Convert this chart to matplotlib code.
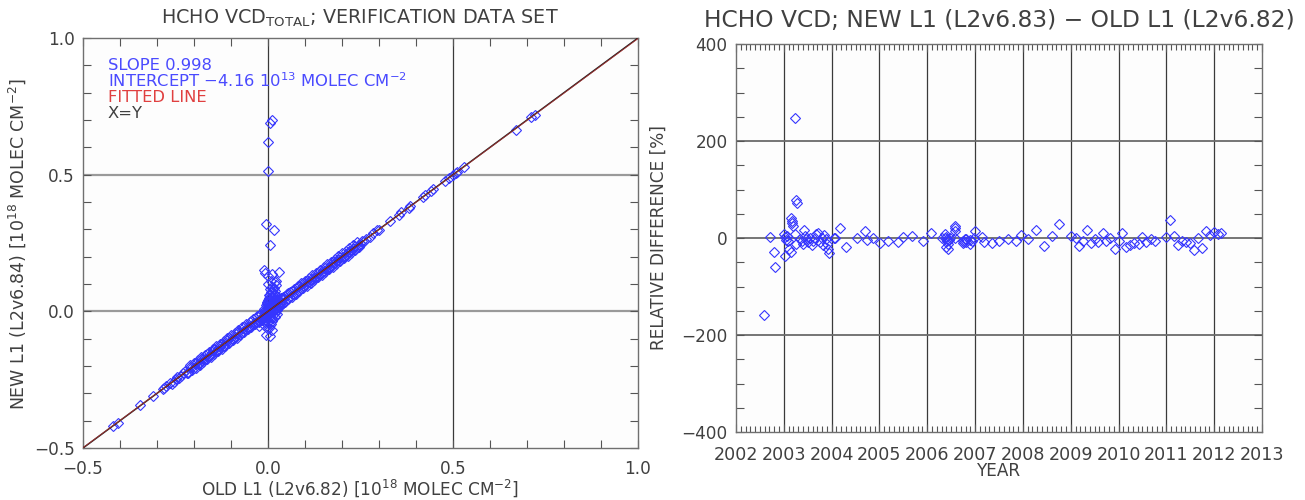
import matplotlib
matplotlib.use("Agg")
import matplotlib.pyplot as plt
from matplotlib.ticker import MultipleLocator, FuncFormatter

plt.rcParams['font.family'] = ['DejaVu Sans']
plt.rcParams['mathtext.fontset'] = 'dejavusans'
plt.rcParams['axes.unicode_minus'] = True

# ---------------- Left panel data (OLD L1 vs NEW L1, 1e18 molec/cm2) ----------------
sparse_x = [-0.420, -0.405, -0.345, -0.310, -0.285, -0.280, -0.275, 0.275, 0.285, 0.295, 0.300,
            0.330, 0.355, 0.360, 0.380, 0.385, 0.420, 0.425, 0.440, 0.445, 0.478, 0.490, 0.500,
            0.508, 0.512, 0.530, 0.670, 0.712, 0.722]
sparse_y = [-0.421, -0.407, -0.344, -0.311, -0.284, -0.282, -0.274, 0.272, 0.286, 0.296, 0.298,
            0.329, 0.354, 0.362, 0.378, 0.386, 0.418, 0.424, 0.440, 0.446, 0.476, 0.488, 0.498,
            0.507, 0.511, 0.528, 0.662, 0.710, 0.718]

band1_x = [-0.265, -0.255, -0.245, -0.235, -0.225, -0.215, -0.205, -0.195, -0.185, -0.175, -0.165,
           -0.155, -0.145, -0.135, -0.125, -0.115, -0.105, -0.095, -0.085, -0.075, -0.065, -0.055,
           -0.045, -0.035, -0.025, -0.015, -0.005, 0.005, 0.015, 0.025, 0.035, 0.045, 0.055, 0.065,
           0.075, 0.085, 0.095, 0.105, 0.115, 0.125, 0.135, 0.145, 0.155, 0.165, 0.175, 0.185,
           0.195, 0.205, 0.215, 0.225, 0.235, 0.245, 0.255, 0.265]
band1_y = [-0.261, -0.258, -0.239, -0.237, -0.220, -0.221, -0.202, -0.188, -0.189, -0.173, -0.157,
           -0.160, -0.139, -0.142, -0.121, -0.118, -0.098, -0.101, -0.080, -0.083, -0.059, -0.059,
           -0.036, -0.042, -0.015, -0.027, 0.010, 0.025, 0.033, 0.041, 0.049, 0.057, 0.066, 0.075,
           0.084, 0.093, 0.102, 0.111, 0.120, 0.121, 0.141, 0.142, 0.160, 0.161, 0.181, 0.183,
           0.199, 0.200, 0.218, 0.221, 0.240, 0.242, 0.259, 0.263]

band2_x = [-0.26, -0.25, -0.24, -0.23, -0.22, -0.21, -0.20, -0.19, -0.18, -0.17, -0.16, -0.15,
           -0.14, -0.13, -0.12, -0.11, -0.10, -0.09, -0.08, -0.07, -0.06, -0.05, -0.04, -0.03,
           -0.02, -0.01, 0.00, 0.01, 0.02, 0.03, 0.04, 0.05, 0.06, 0.07, 0.08, 0.09, 0.10, 0.11,
           0.12, 0.13, 0.14, 0.15, 0.16, 0.17, 0.18, 0.19, 0.20, 0.21, 0.22, 0.23, 0.24, 0.25, 0.26]
band2_y = [-0.265, -0.246, -0.244, -0.226, -0.224, -0.205, -0.206, -0.193, -0.176, -0.174, -0.164,
           -0.146, -0.145, -0.126, -0.125, -0.106, -0.105, -0.094, -0.076, -0.075, -0.066, -0.054,
           -0.047, -0.038, -0.030, -0.018, -0.006, 0.000, 0.010, 0.022, 0.032, 0.044, 0.054, 0.064,
           0.074, 0.085, 0.095, 0.106, 0.116, 0.126, 0.136, 0.146, 0.156, 0.167, 0.176, 0.187,
           0.196, 0.207, 0.216, 0.227, 0.236, 0.247, 0.256]

band3_x = [-0.215, -0.205, -0.195, -0.185, -0.175, -0.165, -0.155, -0.145, -0.135, -0.125, -0.115,
           -0.105, -0.095, -0.085, -0.075, -0.065, -0.055, -0.045, -0.035, -0.025, -0.015, -0.005,
           0.005, 0.015, 0.025, 0.035, 0.045, 0.055, 0.065, 0.075, 0.085, 0.095, 0.105, 0.115,
           0.125, 0.135, 0.145, 0.155, 0.165, 0.175, 0.185, 0.195, 0.205, 0.215, 0.225, 0.235, 0.245]
band3_y = [-0.226, -0.216, -0.206, -0.196, -0.186, -0.176, -0.166, -0.156, -0.146, -0.136, -0.126,
           -0.116, -0.106, -0.096, -0.086, -0.076, -0.066, -0.056, -0.046, -0.036, -0.026, -0.016,
           -0.006, 0.004, 0.014, 0.024, 0.034, 0.044, 0.054, 0.064, 0.074, 0.084, 0.094, 0.104,
           0.114, 0.124, 0.134, 0.144, 0.154, 0.164, 0.174, 0.184, 0.194, 0.204, 0.214, 0.224, 0.234]

band4_x = [-0.21, -0.20, -0.19, -0.18, -0.17, -0.16, -0.15, -0.14, -0.13, -0.12, -0.11, -0.10,
           -0.09, -0.08, -0.07, -0.06, -0.05, -0.04, -0.03, -0.02, -0.01, 0.00, 0.01, 0.02, 0.03,
           0.04, 0.05, 0.06, 0.07, 0.08, 0.09, 0.10, 0.11, 0.12, 0.13, 0.14, 0.15, 0.16, 0.17,
           0.18, 0.19, 0.20, 0.21, 0.22, 0.23, 0.24]
band4_y = [-0.198, -0.188, -0.178, -0.168, -0.158, -0.148, -0.138, -0.128, -0.118, -0.108, -0.098,
           -0.088, -0.078, -0.068, -0.058, -0.048, -0.038, -0.028, -0.018, -0.008, 0.002, 0.012,
           0.022, 0.032, 0.042, 0.052, 0.062, 0.072, 0.082, 0.092, 0.102, 0.112, 0.122, 0.132,
           0.142, 0.152, 0.162, 0.172, 0.182, 0.192, 0.202, 0.212, 0.222, 0.232, 0.242, 0.252]

blob_x = [0.000, 0.002, -0.003, 0.005, 0.008, 0.010, 0.012, 0.015, 0.018, 0.020, 0.022, 0.025,
          0.003, 0.006, -0.005, -0.008, -0.010, -0.012, -0.015, 0.000, 0.004, 0.010, 0.015, 0.020,
          0.028, 0.030, 0.035, 0.040, -0.002, 0.007, 0.012, 0.018, 0.025, 0.001, -0.004, 0.009,
          0.016, 0.022, -0.018, -0.025,
          -0.010, -0.006, -0.002, 0.002, 0.006, 0.010, 0.014, 0.018, 0.022, 0.026,
          -0.008, -0.004, 0.000, 0.004, 0.008, 0.012, 0.016, 0.020, 0.024, 0.028, 0.032,
          -0.012, -0.006, 0.000, 0.006, 0.012, 0.018, 0.024, 0.030,
          0.036, -0.020, -0.014, -0.008, -0.002, 0.004, 0.010, 0.016, 0.022]
blob_y = [0.040, 0.060, 0.020, 0.080, 0.070, 0.050, 0.090, 0.065, 0.045, 0.075, 0.030, 0.055,
          -0.020, -0.030, -0.010, -0.040, -0.025, -0.050, -0.030, 0.000, 0.010, 0.000, 0.020, 0.010,
          0.040, 0.020, 0.050, 0.045, -0.060, -0.045, -0.035, -0.020, -0.010, 0.100, 0.030, 0.110,
          0.085, 0.095, -0.010, -0.040,
          0.010, 0.025, 0.035, 0.050, 0.060, 0.070, 0.080, 0.060, 0.050, 0.040,
          -0.005, 0.005, 0.015, 0.030, 0.040, 0.030, 0.045, 0.030, 0.025, 0.035, 0.030,
          -0.020, -0.015, -0.040, -0.050, -0.025, -0.005, 0.005, 0.015,
          0.025, -0.025, -0.020, -0.030, -0.015, -0.060, -0.070, 0.000, 0.110]

outlier_x = [0.005, 0.012, 0.000, 0.000, -0.005, 0.015, 0.005, -0.010, -0.008, 0.000, 0.010,
             0.030, 0.020, -0.005, 0.005, -0.025]
outlier_y = [0.690, 0.700, 0.618, 0.512, 0.320, 0.298, 0.243, 0.150, 0.140, 0.130, 0.135,
             0.145, 0.108, -0.085, -0.092, -0.055]

fit_slope = 0.998
fit_intercept = -4.16e-5      # 1e18 units (= -4.16e13 molec/cm2)
line_x = [-0.5, 1.0]

# ---------------- Right panel data (relative difference in %) ----------------
diff_year = [2002.58, 2002.71, 2002.785, 2002.82,
             2003.01, 2003.02, 2003.03, 2003.04, 2003.07, 2003.09, 2003.11, 2003.15, 2003.16, 2003.17,
             2003.18, 2003.19, 2003.23, 2003.23, 2003.26, 2003.27, 2003.26, 2003.33, 2003.37, 2003.40,
             2003.42, 2003.44, 2003.47, 2003.51, 2003.54, 2003.58, 2003.61, 2003.65, 2003.68, 2003.72,
             2003.75, 2003.79, 2003.82, 2003.85, 2003.89, 2003.90, 2003.92, 2003.94, 2004.05, 2004.08,
             2004.17, 2004.31, 2004.53, 2004.69, 2004.73, 2004.87, 2005.02, 2005.17, 2005.38, 2005.49,
             2005.68, 2005.92, 2006.08, 2006.31,
             2006.37, 2006.38, 2006.40, 2006.41, 2006.42, 2006.43, 2006.39, 2006.44, 2006.46, 2006.47,
             2006.58, 2006.58, 2006.59, 2006.59, 2006.74, 2006.75, 2006.77, 2006.78, 2006.80, 2006.81,
             2006.89, 2006.90, 2006.93, 2006.98, 2007.00,
             2007.15, 2007.19, 2007.35, 2007.51, 2007.68, 2007.85, 2007.95, 2008.10, 2008.27, 2008.44,
             2008.60, 2008.76, 2009.00, 2009.10, 2009.17, 2009.25, 2009.33, 2009.43, 2009.50, 2009.58,
             2009.67, 2009.74, 2009.83, 2009.92, 2010.00, 2010.08, 2010.16, 2010.24, 2010.33, 2010.42,
             2010.49, 2010.58, 2010.67, 2010.76, 2010.99, 2011.08, 2011.17, 2011.24, 2011.33, 2011.42,
             2011.50, 2011.58, 2011.66, 2011.74, 2011.82, 2011.91, 2011.99, 2012.08, 2012.15]
diff_pct = [-158, 3, -28, -59,
            8, 3, -38, -4, 5, -5.5, -23, -28, 41, 36,
            30, 25, 247, 8, 78, 73, -12, -2, -7, -12,
            16, 5, -2, -9, 1, -14, -5.5, 0, 8, 10,
            -9, 1, -14, 7, -2, -12, -23, -30, 0, -1,
            21, -19, 0, 15, -4, 0, -10, -5.5, -9, 3,
            4, -5.5, 10, 0,
            0, 8, 3, -2, -7, -12, -19, -23, -4, 1,
            25, 21, 15, 0, -5.5, -11, -8, -2, -9, -3,
            -4, -12, -7, 1, 14,
            3, -9, -11, -6, -3, -5.5, 6, -3, 16.5, -16.5,
            4, 29, 5, 0, -16.5, -5.5, 16.5, -10, -3, -9,
            10, -6, -1, -22, -5.5, 11, -18, -14, -11, -12,
            2, -8, -3, -6, 3, 38, 5, -14, -5.5, -7.5,
            -11, -25, 0, -21, 15, 6, 13, 8, 10]

year_ticks = [2002, 2003, 2004, 2005, 2006, 2007, 2008, 2009, 2010, 2011, 2012, 2013]
year_grid = [2003, 2004, 2005, 2006, 2007, 2008, 2009, 2010, 2011, 2012]
pct_grid = [-200, 0, 200]
vcd_grid = [0.0, 0.5]

# ---------------- Styling ----------------
W, H = 1305, 500
TXT = '#404040'
BLUE_M = '#3535ff'
BLUE_T = '#4a4aff'
RED_T = '#e04040'
FRAME = '#707070'

fig = plt.figure(figsize=(W / 100, H / 100), dpi=100)
fig.patch.set_facecolor('white')
axL = fig.add_axes([83 / W, 1 - 448 / H, 555 / W, 410 / H])
axR = fig.add_axes([736 / W, 1 - 432 / H, 526 / W, 388 / H])

def fmt1(v, p):
    return f'{v:.1f}'.replace('-', '\u2212')

def fmt0(v, p):
    return f'{v:.0f}'.replace('-', '\u2212')

mk = dict(ls='none', marker='D', ms=4.6, mfc='none', mec=BLUE_M, mew=0.8, zorder=3)

for ax in (axL, axR):
    ax.set_facecolor('#fdfdfd')
    for s in ax.spines.values():
        s.set_color(FRAME)
        s.set_linewidth(1.0)

# ----- Left -----
axL.set_xlim(-0.5, 1.0)
axL.set_ylim(-0.5, 1.0)
for g in vcd_grid:
    axL.axvline(g, color='#3a3a3a', lw=0.9, zorder=1)
    axL.axhline(g, color='#9a9a9a', lw=1.6, zorder=1)

for xs, ys in ((band1_x, band1_y), (band2_x, band2_y), (band3_x, band3_y), (band4_x, band4_y),
               (blob_x, blob_y), (sparse_x, sparse_y), (outlier_x, outlier_y)):
    axL.plot(xs, ys, **mk)
axL.plot(line_x, line_x, color='#202020', lw=1.1, zorder=4)
axL.plot(line_x, [fit_slope * v + fit_intercept for v in line_x], color='#c03030', lw=0.7,
         alpha=0.75, zorder=5)

axL.xaxis.set_major_locator(MultipleLocator(0.5))
axL.xaxis.set_minor_locator(MultipleLocator(0.1))
axL.yaxis.set_major_locator(MultipleLocator(0.5))
axL.yaxis.set_minor_locator(MultipleLocator(0.1))
axL.xaxis.set_major_formatter(FuncFormatter(fmt1))
axL.yaxis.set_major_formatter(FuncFormatter(fmt1))
axL.tick_params(which='both', direction='in', top=True, right=True, length=6, width=0.8,
                color='#555555', labelcolor=TXT, labelsize=12.2)
axL.tick_params(axis='x', pad=9)
axL.tick_params(axis='y', pad=6)

ann = dict(transform=axL.transAxes, fontsize=11.8, va='center')
axL.text(0.045, 0.934, 'SLOPE 0.998', color=BLUE_T, **ann)
axL.text(0.045, 0.895, 'INTERCEPT \u22124.16 10$^{13}$ MOLEC CM$^{-2}$', color=BLUE_T, **ann)
axL.text(0.045, 0.855, 'FITTED LINE', color=RED_T, **ann)
axL.text(0.045, 0.816, 'X=Y', color=TXT, **ann)

fig.text(360 / W, 1 - 18 / H, 'HCHO VCD$_{\\mathrm{TOTAL}}$; VERIFICATION DATA SET', ha='center',
         va='center', fontsize=13.8, color=TXT)
fig.text(17 / W, 1 - 244 / H, 'NEW L1 (L2v6.84) [10$^{18}$ MOLEC CM$^{-2}$]', rotation=90,
         ha='center', va='center', fontsize=12.5, color=TXT)
fig.text(360 / W, 1 - 488 / H, 'OLD L1 (L2v6.82) [10$^{18}$ MOLEC CM$^{-2}$]', ha='center',
         va='center', fontsize=12.2, color=TXT)

# ----- Right -----
axR.set_xlim(2002, 2013)
axR.set_ylim(-400, 400)
for g in year_grid:
    axR.axvline(g, color='#3a3a3a', lw=0.9, zorder=1)
for g in pct_grid:
    axR.axhline(g, color='#6a6a6a', lw=1.3, zorder=1)
axR.plot(diff_year, diff_pct, **mk)

axR.set_xticks(year_ticks)
axR.set_xticklabels([str(y) for y in year_ticks])
axR.xaxis.set_minor_locator(MultipleLocator(0.1))
axR.yaxis.set_major_locator(MultipleLocator(200))
axR.yaxis.set_minor_locator(MultipleLocator(50))
axR.yaxis.set_major_formatter(FuncFormatter(fmt0))
axR.tick_params(which='both', direction='in', top=True, right=True, width=0.8, color='#555555',
                labelcolor=TXT)
axR.tick_params(axis='y', which='both', length=6, pad=6, labelsize=12.2)
axR.tick_params(axis='x', which='major', length=6, pad=10, labelsize=12.6)
axR.tick_params(axis='x', which='minor', length=4)

fig.text(999 / W, 1 - 20 / H, 'HCHO VCD; NEW L1 (L2v6.83) \u2212 OLD L1 (L2v6.82)', ha='center',
         va='center', fontsize=16.8, color=TXT)
fig.text(659 / W, 1 - 238 / H, 'RELATIVE DIFFERENCE [%]', rotation=90, ha='center', va='center',
         fontsize=12.2, color=TXT)
fig.text(999 / W, 1 - 471 / H, 'YEAR', ha='center', va='center', fontsize=12.2, color=TXT)

fig.savefig('out.png', dpi=100, facecolor='white')
